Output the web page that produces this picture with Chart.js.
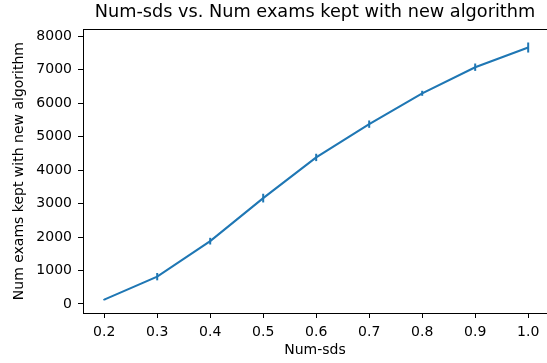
<!DOCTYPE html>
<html>
<head>
<meta charset="utf-8">
<script src="https://cdn.jsdelivr.net/npm/chart.js@4"></script>
<style>
  html, body { margin: 0; padding: 0; background: #fff; }
  #wrap { width: 547px; height: 363px; position: relative; }
</style>
</head>
<body>
<div id="wrap"><canvas id="c" width="547" height="363"></canvas></div>
<script>
// ---- data ----
const numSds = [0.2, 0.3, 0.4, 0.5, 0.6, 0.7, 0.8, 0.9, 1.0];
const examsKept = [130, 817, 1877, 3164, 4379, 5373, 6295, 7075, 7663];
const examsErr = [20, 110, 100, 130, 110, 110, 75, 110, 150];
const xTicks = [0.2, 0.3, 0.4, 0.5, 0.6, 0.7, 0.8, 0.9, 1.0];
const yTicks = [0, 1000, 2000, 3000, 4000, 5000, 6000, 7000, 8000];
const titleText = 'Num-sds vs. Num exams kept with new algorithm';
const xLabel = 'Num-sds';
const yLabel = 'Num exams kept with new algorithm';

const lineColor = '#1f77b4';
const FONT = 'DejaVu Sans';

const errorBars = {
  id: 'errorBars',
  afterDatasetsDraw(chart) {
    const { ctx, scales: { x, y } } = chart;
    ctx.save();
    ctx.strokeStyle = lineColor;
    ctx.lineWidth = 2;
    numSds.forEach((v, i) => {
      const px = x.getPixelForValue(v);
      const y1 = y.getPixelForValue(examsKept[i] - examsErr[i]);
      const y2 = y.getPixelForValue(examsKept[i] + examsErr[i]);
      ctx.beginPath();
      ctx.moveTo(px, y1);
      ctx.lineTo(px, y2);
      ctx.stroke();
    });
    ctx.restore();
  }
};

const topSpine = {
  id: 'topSpine',
  afterDraw(chart) {
    const { ctx, chartArea: a } = chart;
    ctx.save();
    ctx.strokeStyle = '#000';
    ctx.lineWidth = 1;
    ctx.beginPath();
    ctx.moveTo(a.left, Math.round(a.top) + 0.5);
    ctx.lineTo(a.right + 5, Math.round(a.top) + 0.5);
    ctx.stroke();
    ctx.restore();
  }
};

new Chart(document.getElementById('c'), {
  type: 'line',
  data: {
    datasets: [{
      data: numSds.map((v, i) => ({ x: v, y: examsKept[i] })),
      borderColor: lineColor,
      borderWidth: 2.1,
      pointRadius: 0,
      tension: 0,
      fill: false
    }]
  },
  options: {
    responsive: false,
    animation: false,
    devicePixelRatio: 1,
    layout: { padding: { left: 0, right: 0, top: 0, bottom: 0 } },
    plugins: {
      legend: { display: false },
      tooltip: { enabled: false },
      title: {
        display: true,
        text: titleText,
        fullSize: false,
        color: '#000',
        font: { family: FONT, size: 17.7, weight: 'normal', lineHeight: 1.2 },
        padding: { top: 2, bottom: 6 }
      }
    },
    scales: {
      x: {
        type: 'linear',
        min: 0.16,
        max: 1.0355,
        afterFit(s) { s.height = 50; },
        afterBuildTicks(s) { s.ticks = xTicks.map(v => ({ value: v })); },
        border: { display: true, color: '#000', width: 1 },
        grid: { display: true, drawOnChartArea: false, drawTicks: true, tickLength: 5, tickColor: '#000', tickWidth: 1 },
        ticks: {
          color: '#000',
          padding: 6,
          maxRotation: 0,
          autoSkip: false,
          font: { family: FONT, size: 14 },
          callback: v => Number(v).toFixed(1)
        },
        title: {
          display: true,
          text: xLabel,
          color: '#000',
          font: { family: FONT, size: 14 },
          padding: { top: 0, bottom: 4 }
        }
      },
      y: {
        type: 'linear',
        min: -269,
        max: 8209,
        afterFit(s) { s.width = 83; },
        afterBuildTicks(s) { s.ticks = yTicks.map(v => ({ value: v })); },
        border: { display: true, color: '#000', width: 1 },
        grid: { display: true, drawOnChartArea: false, drawTicks: true, tickLength: 5, tickColor: '#000', tickWidth: 1 },
        ticks: {
          color: '#000',
          padding: 6,
          autoSkip: false,
          font: { family: FONT, size: 14 },
          callback: v => String(v)
        },
        title: {
          display: true,
          text: yLabel,
          color: '#000',
          font: { family: FONT, size: 14 },
          padding: { top: 11, bottom: 0 }
        }
      }
    }
  },
  plugins: [errorBars, topSpine]
});
</script>
</body>
</html>
